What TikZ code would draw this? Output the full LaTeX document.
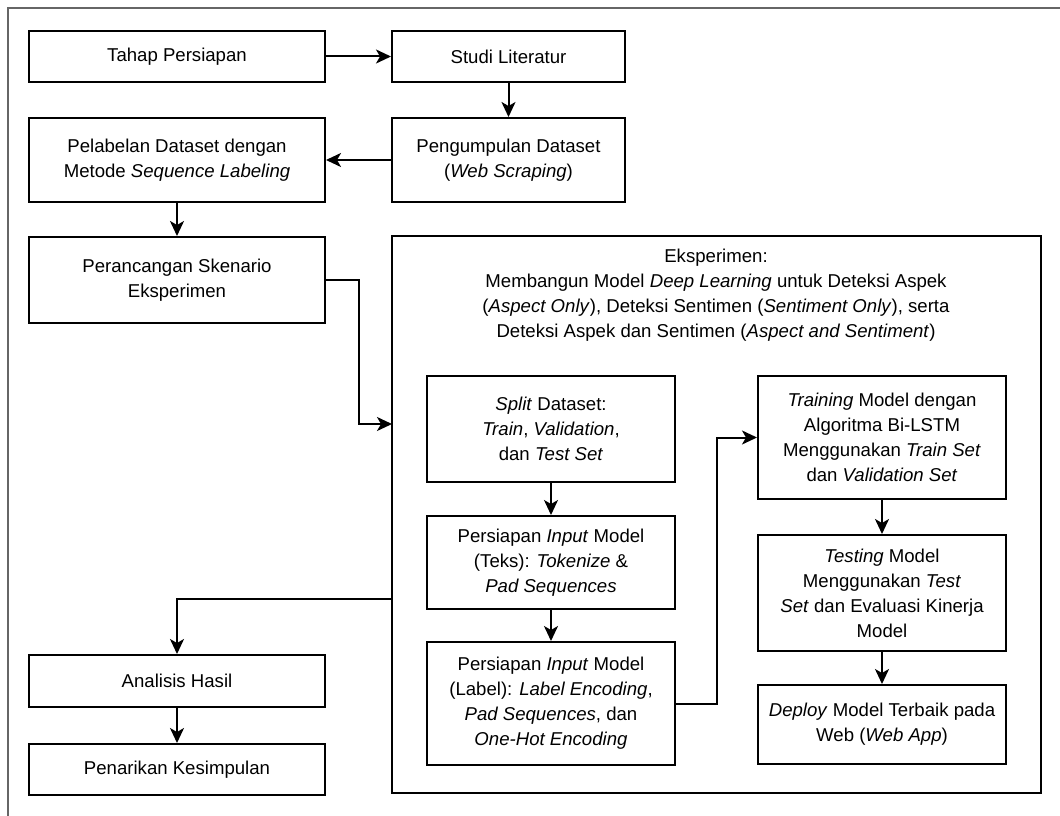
\documentclass[tikz,border=0pt]{standalone}
\usepackage{fontspec}
\setmainfont{Liberation Sans}
\usepackage{tikz}
\usetikzlibrary{arrows.meta,calc,positioning}
\tikzset{
  box/.style={draw, rectangle, line width=2pt, align=center, inner sep=0pt},
  arr/.style={line width=2pt, -{Stealth[length=15pt,width=14pt,inset=4pt]}}
}
\begin{document}
\begin{tikzpicture}[x=1pt,y=-1pt,font=\fontsize{18.6}{25}\selectfont]
        \useasboundingbox (0,0) rectangle (1060,816);
        % outer frame (cut at right and bottom)
        \draw[line width=1.6pt, black!60] (8,816) -- (8,8) -- (1060,8);
        % left column
        \node[box, minimum width=296, minimum height=51] (persiapan) at (177,56.5) {Tahap Persiapan};
        \node[box, minimum width=296, minimum height=84] (pelabelan) at (177,160) {Pelabelan Dataset dengan\\Metode \textit{Sequence Labeling}};
        \node[box, minimum width=296, minimum height=86] (perancangan) at (177,280) {Perancangan Skenario\\Eksperimen};
        \node[box, minimum width=296, minimum height=52] (analisis) at (177,681) {Analisis Hasil};
        \node[box, minimum width=296, minimum height=51] (kesimpulan) at (177,769.5) {Penarikan Kesimpulan};
        % right column
        \node[box, minimum width=233, minimum height=51] (literatur) at (508.5,56.5) {Studi Literatur};
        \node[box, minimum width=233, minimum height=84] (pengumpulan) at (508.5,160) {Pengumpulan Dataset\\(\textit{Web Scraping})};
        % Eksperimen box
        \node[box, minimum width=649, minimum height=557] (eksperimen) at (716.5,514.5) {};
        \node[align=center, anchor=north] (judul) at (716,245) {Eksperimen:\\Membangun Model \textit{Deep Learning} untuk Deteksi Aspek\\(\textit{Aspect Only}), Deteksi Sentimen (\textit{Sentiment Only}), serta\\Deteksi Aspek dan Sentimen (\textit{Aspect and Sentiment})};
        \node[box, minimum width=248, minimum height=106] (split) at (551,429) {\textit{Split} Dataset:\\\textit{Train}, \textit{Validation},\\dan \textit{Test Set}};
        \node[box, minimum width=248, minimum height=93] (teks) at (551,562.5) {Persiapan \textit{Input} Model\\(Teks): \textit{Tokenize} \&\\\textit{Pad Sequences}};
        \node[box, minimum width=248, minimum height=123] (label) at (551,703.5) {Persiapan \textit{Input} Model\\(Label): \textit{Label Encoding},\\\textit{Pad Sequences}, dan\\\textit{One-Hot Encoding}};
        \node[box, minimum width=248, minimum height=123] (training) at (882,437.5) {\textit{Training} Model dengan\\Algoritma Bi-LSTM\\Menggunakan \textit{Train Set}\\dan \textit{Validation Set}};
        \node[box, minimum width=248, minimum height=116] (testing) at (882,593) {\textit{Testing} Model\\Menggunakan \textit{Test}\\\textit{Set} dan Evaluasi Kinerja\\Model};
        \node[box, minimum width=248, minimum height=79] (deploy) at (882,724.5) {\textit{Deploy} Model Terbaik pada\\Web (\textit{Web App})};
        % entry and exit points of the Eksperimen box
        \coordinate (ekspmasuk) at (392,424);
        \coordinate (ekspkeluar) at (392,599);
        % arrows
        \draw[arr] (persiapan) -- (literatur);
        \draw[arr] (literatur) -- (pengumpulan);
        \draw[arr] (pengumpulan) -- (pelabelan);
        \draw[arr] (pelabelan) -- (perancangan);
        \draw[arr] (perancangan.east) -- ++(33,0) |- (ekspmasuk);
        \draw[arr] (ekspkeluar) -| (analisis.north);
        \draw[arr] (analisis) -- (kesimpulan);
        \draw[arr] (split) -- (teks);
        \draw[arr] (teks) -- (label);
        \draw[arr] (label.east) -- ++(41,0) |- (training.west);
        \draw[arr] (training) -- (testing);
        \draw[arr] (testing) -- (deploy);
      \end{tikzpicture}
\end{document}
